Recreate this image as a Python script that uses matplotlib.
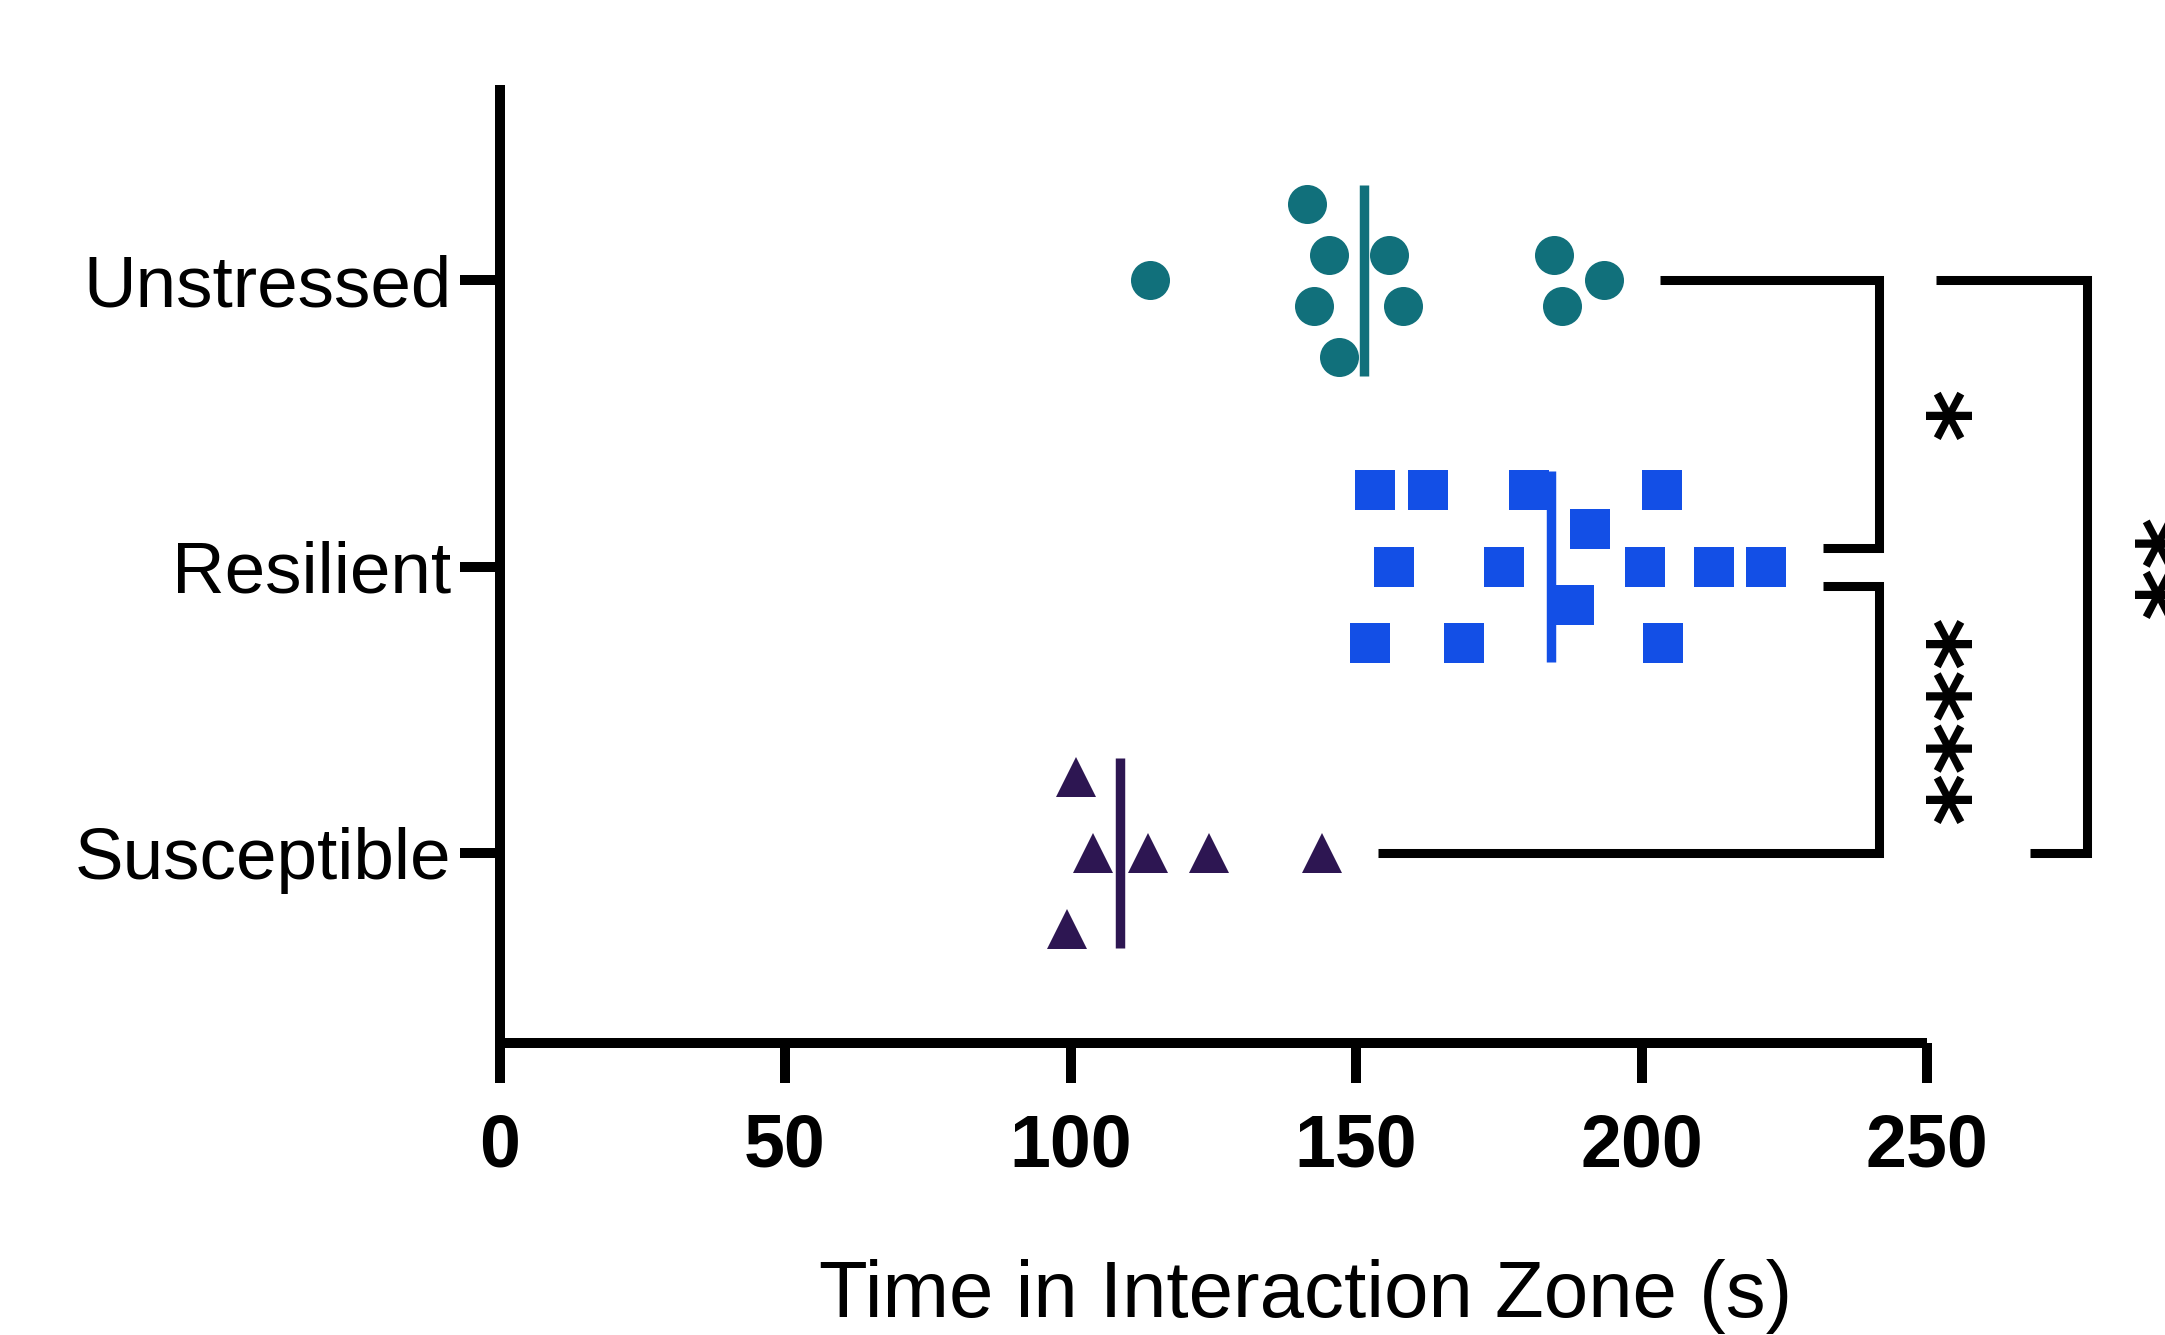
import matplotlib
matplotlib.use("Agg")
import matplotlib.pyplot as plt
import matplotlib.transforms as mtransforms
import numpy as np

# ---------------- data ----------------
groups = ["Susceptible", "Resilient", "Unstressed"]          # bottom -> top
susceptible = [99.3, 101.0, 103.9, 113.6, 124.2, 144.0]
resilient = [152.5, 153.4, 156.7, 162.6, 168.9, 175.9, 180.3, 188.1,
             191.0, 200.6, 203.6, 203.8, 212.7, 221.8]
unstressed = [114.0, 141.5, 142.6, 145.2, 147.1, 155.8, 158.2, 184.7,
              186.0, 193.5]
x_ticks = [0, 50, 100, 150, 200, 250]
x_label = "Time in Interaction Zone (s)"
# significance: (lower group index, upper group index, label)
comparisons = [(1, 2, "*"), (0, 1, "****"), (0, 2, "**")]

# ---------------- layout (swarm rows, styles) ----------------
swarm_unit = 0.0444
swarm_rows = {
    "Susceptible": [-6, 6, 0, 0, 0, 0],
    "Resilient": [-6, 6, 0, 6, -6, 0, 6, -3, 3, 0, 6, -6, 0, 0],
    "Unstressed": [0, 6, -2, 2, -6, 2, -2, 2, -2, 0],
}
colors = {"Susceptible": "#2d1652", "Resilient": "#134fe6", "Unstressed": "#11707b"}
markers = {"Susceptible": "^", "Resilient": "s", "Unstressed": "o"}
values = {"Susceptible": susceptible, "Resilient": resilient, "Unstressed": unstressed}

plt.rcParams["font.family"] = ["Liberation Sans", "DejaVu Sans"]

W, H = 2165, 1335
fig = plt.figure(figsize=(W / 100, H / 100), dpi=100)
ax_left, ax_right, ax_top, ax_bottom = 499.5, 1927.0, 85.0, 1043.3
ax = fig.add_axes([ax_left / W, 1 - ax_bottom / H,
                   (ax_right - ax_left) / W, (ax_bottom - ax_top) / H])

ax.set_xlim(0, 250)
ax.set_ylim(-0.665, 2.683)

ms = 28.1
for gi, g in enumerate(groups):
    vals = np.array(values[g])
    offs = np.array(swarm_rows[g]) * swarm_unit
    ax.plot(vals, gi + offs, linestyle="none", marker=markers[g], ms=ms,
            mfc=colors[g], mec="none", mew=0, zorder=3, clip_on=False)
    med = np.median(vals)
    ax.plot([med, med], [gi - 0.333, gi + 0.333], color=colors[g], lw=6.8,
            solid_capstyle="butt", zorder=4, clip_on=False)

# brackets (layout in data coords)
bracket_lw = 6.5
br = [
    # (x_top_start, y_top, x_vert, y_bot, x_bot_end)
    (203.3, 2.0, 241.6, 1.067, 231.7),
    (231.7, 0.932, 241.6, 0.0, 153.8),
    (251.5, 2.0, 278.0, 0.0, 268.0),
]
for (xs, yt, xv, yb, xe) in br:
    ax.plot([xs, xv, xv, xe], [yt, yt, yb, yb], color="black", lw=bracket_lw,
            solid_joinstyle="miter", solid_capstyle="butt", clip_on=False, zorder=2)

star_x = {(1, 2): 253.0, (0, 1): 253.0, (0, 2): 289.5}
star_y = {(1, 2): 1.533, (0, 1): 0.466, (0, 2): 1.0}
star_fs = 72
star_trans = mtransforms.offset_copy(ax.transData, fig=fig, x=0.55 * star_fs, y=0,
                                     units="points")
for lo, hi, lab in comparisons:
    ax.text(star_x[(lo, hi)], star_y[(lo, hi)], lab, transform=star_trans,
            rotation=90, rotation_mode="anchor", ha="center", va="baseline",
            fontsize=star_fs, fontfamily="DejaVu Sans", fontweight="bold",
            clip_on=False)

# axes styling
for s in ["top", "right"]:
    ax.spines[s].set_visible(False)
for s in ["left", "bottom"]:
    ax.spines[s].set_linewidth(7.2)
    ax.spines[s].set_capstyle("butt")

ax.set_xticks(x_ticks)
ax.set_xticklabels([str(t) for t in x_ticks], fontsize=53, fontweight="bold")
ax.set_yticks(range(len(groups)))
ax.set_yticklabels(groups, fontsize=52.5)
ax.tick_params(axis="both", direction="out", length=28.8, width=7.2, color="black")
ax.tick_params(axis="x", pad=21)
ax.tick_params(axis="y", pad=5.8)

ax.set_xlabel(x_label, fontsize=57.5)
ax.xaxis.set_label_coords(0.5646, -0.2856)
ax.xaxis.label.set_va("baseline")

fig.savefig("out.png", dpi=100)
